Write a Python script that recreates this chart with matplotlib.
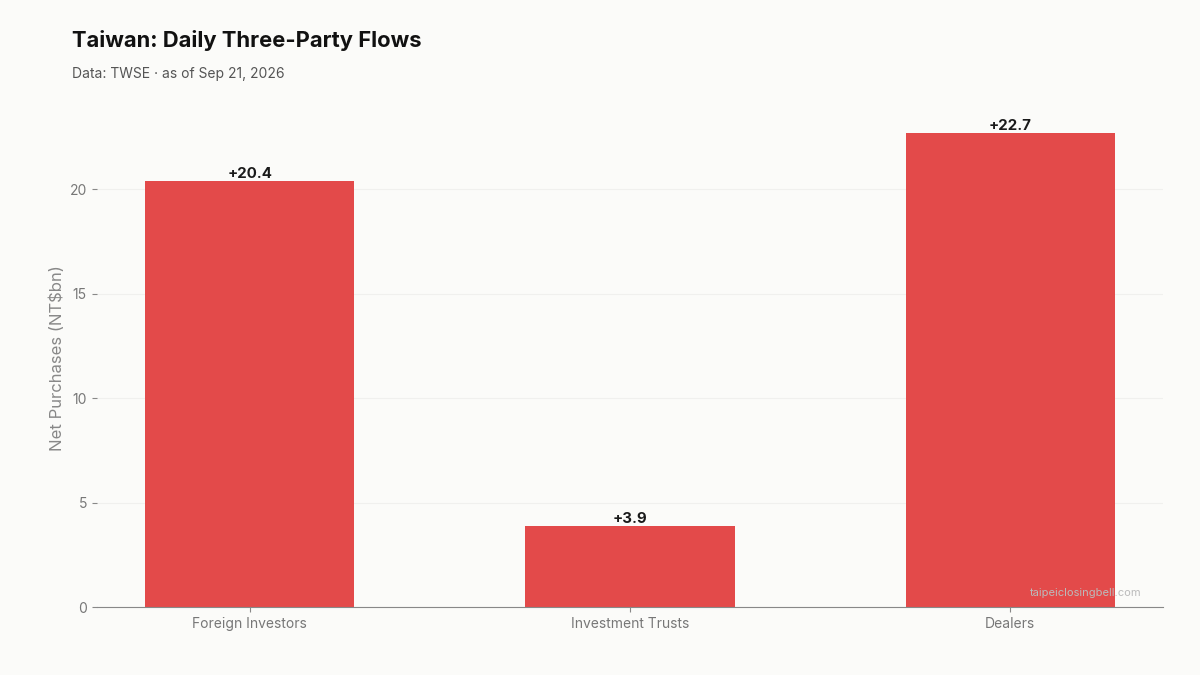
import matplotlib
matplotlib.use("Agg")
import matplotlib.pyplot as plt

categories = ["Foreign Investors", "Investment Trusts", "Dealers"]
net_buys = [20.4, 3.9, 22.7]
y_ticks = [0, 5, 10, 15, 20]

plt.rcParams['font.family'] = ['Inter', 'DejaVu Sans']

bg = '#fbfbf9'
fig = plt.figure(figsize=(12, 6.75), dpi=100, facecolor=bg)
ax = fig.add_axes([0.0805, 0.1007, 0.889, 0.738])
ax.set_facecolor(bg)

x = range(len(categories))
bars = ax.bar(x, net_buys, width=0.55, color='#e34a4a', zorder=2)
for b, v in zip(bars, net_buys):
    ax.text(b.get_x() + b.get_width() / 2, v, f"+{v:.1f}", ha='center', va='bottom',
            fontsize=10.8, fontweight='bold', color='#1a1a1a')

ax.set_xticks(list(x))
ax.set_xticklabels(categories)
ax.set_yticks(y_ticks)
ax.set_ylim(0, max(net_buys) * 1.05)
ax.tick_params(axis='both', colors='#888888', labelsize=10, labelcolor='#777777', length=3.5)
ax.grid(axis='y', color='#f0f0ee', linewidth=0.8, zorder=0)
for s in ['top', 'right', 'left']:
    ax.spines[s].set_visible(False)
ax.spines['bottom'].set_color('#888888')
ax.set_ylabel("Net Purchases (NT$bn)", fontsize=12, color='#888888', labelpad=3)

fig.text(0.06, 0.94, "Taiwan: Daily Three-Party Flows", fontsize=15.8, fontweight='bold',
         color='#111111', va='center')
fig.text(0.06, 0.89, "Data: TWSE · as of Sep 21, 2026", fontsize=10, color='#555555', va='center')
fig.text(0.951, 0.122, "taipeiclosingbell.com", fontsize=8, color='#bbbbbb', ha='right', va='center')

fig.savefig("out.png", dpi=100, facecolor=bg)
